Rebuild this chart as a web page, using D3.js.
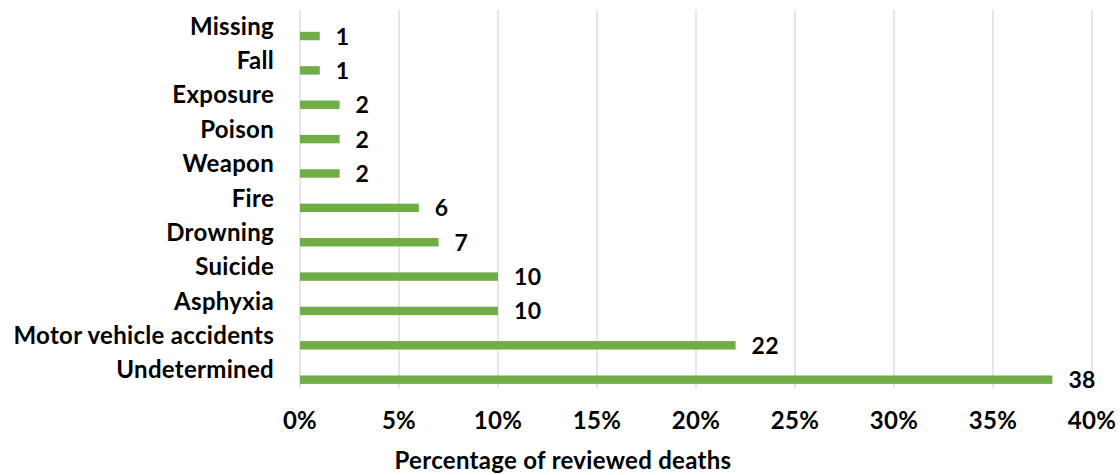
<!DOCTYPE html>
<html>
<head>
<meta charset="utf-8">
<script src="https://cdn.jsdelivr.net/npm/d3@7"></script>
<style>
  body { margin: 0; background: #fff; }
  text { font-family: Lato, "Open Sans", sans-serif; font-weight: bold; fill: #000; letter-spacing: 0.3px; }
</style>
</head>
<body>
<div id="chart"></div>
<script>
// categories top to bottom, as drawn
var categories = ["Missing", "Fall", "Exposure", "Poison", "Weapon", "Fire",
                  "Drowning", "Suicide", "Asphyxia", "Motor vehicle accidents", "Undetermined"];
var values = [1, 1, 2, 2, 2, 6, 7, 10, 10, 22, 38];
var tickValues = [0, 5, 10, 15, 20, 25, 30, 35, 40];
var axisTitle = "Percentage of reviewed deaths";

var width = 1120,
    height = 475;

var svg = d3.select("#chart").append("svg")
    .attr("width", width)
    .attr("height", height);

var x = d3.scaleLinear().domain([0, 40]).range([300, 1092]);
var y = d3.scaleBand().domain(categories).range([10, 388]).padding(0);
var bw = y.bandwidth();

// gridlines
svg.selectAll(".grid")
  .data(tickValues)
  .enter().append("line")
    .attr("x1", function(d) { return x(d); })
    .attr("x2", function(d) { return x(d); })
    .attr("y1", 10)
    .attr("y2", 388)
    .attr("stroke", "#d9d9d9")
    .attr("stroke-width", 1.3);

var data = categories.map(function(c, i) { return { key: c, value: values[i] }; });

// bars sit in the lower part of each band
svg.selectAll(".bar")
  .data(data)
  .enter().append("rect")
    .attr("x", x(0))
    .attr("y", function(d) { return y(d.key) + bw * 0.635; })
    .attr("width", function(d) { return x(d.value) - x(0); })
    .attr("height", bw * 0.245)
    .attr("fill", "#70ad47");

// value labels
svg.selectAll(".val")
  .data(data)
  .enter().append("text")
    .attr("x", function(d) { return x(d.value) + 16; })
    .attr("y", function(d) { return y(d.key) + bw * 0.757 + 8.5; })
    .style("font-size", "23px")
    .text(function(d) { return d.value; });

// category labels
svg.selectAll(".cat")
  .data(categories)
  .enter().append("text")
    .attr("x", 274)
    .attr("y", function(d) { return y(d) + bw / 2 + 7.5; })
    .attr("text-anchor", "end")
    .style("font-size", "24px")
    .text(function(d) { return d; });

// tick labels
svg.selectAll(".tick")
  .data(tickValues)
  .enter().append("text")
    .attr("x", function(d) { return x(d); })
    .attr("y", 429)
    .attr("text-anchor", "middle")
    .style("font-size", "24px")
    .text(function(d) { return d + "%"; });

svg.append("text")
    .attr("x", 563)
    .attr("y", 469)
    .attr("text-anchor", "middle")
    .style("font-size", "24px")
    .text(axisTitle);
</script>
</body>
</html>
